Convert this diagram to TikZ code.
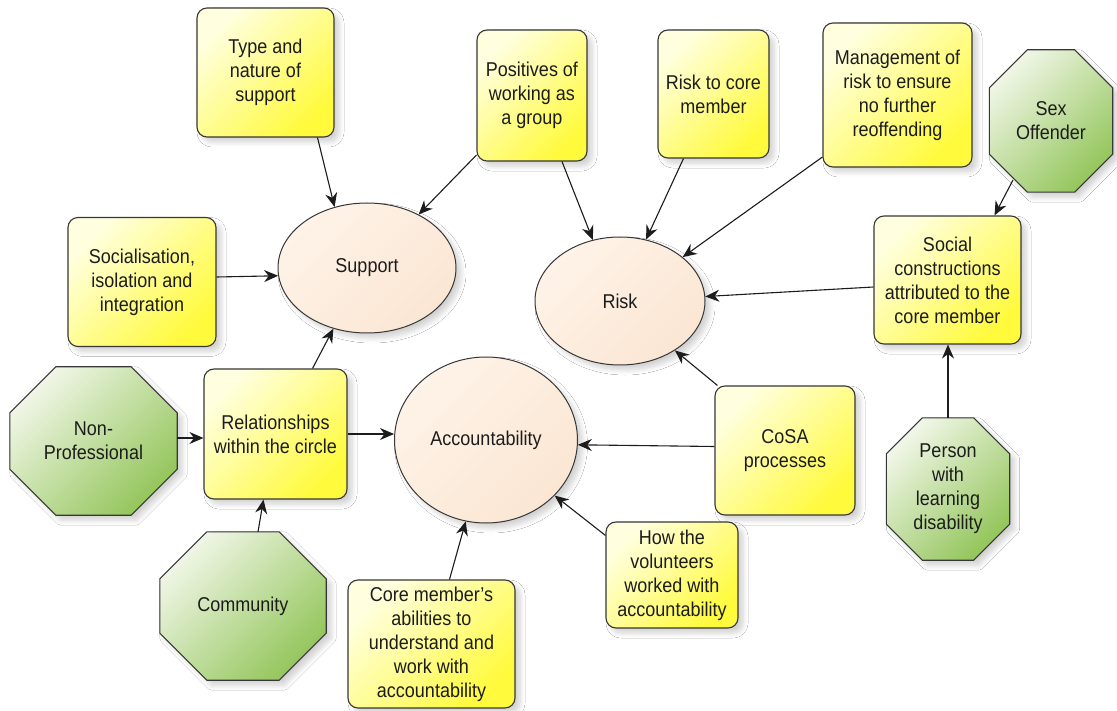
\documentclass[tikz,border=0pt]{standalone}
\usepackage{fontspec}
\setmainfont{Liberation Sans}[FakeStretch=0.9]
\usetikzlibrary{arrows.meta,shadows.blur,backgrounds,calc,shapes.geometric}

\definecolor{boxlight}{RGB}{255,255,224}
\definecolor{boxdark}{RGB}{255,250,60}
\definecolor{octlight}{RGB}{240,246,230}
\definecolor{octdark}{RGB}{148,198,92}
\definecolor{elllight}{RGB}{254,243,232}
\definecolor{elldark}{RGB}{251,230,211}
\definecolor{edge}{RGB}{55,55,55}
\definecolor{ink}{RGB}{28,28,28}

\begin{document}
\begin{tikzpicture}[x=1pt,y=-1pt,
  every node/.style={font=\fontsize{20}{24}\selectfont, text=ink, align=center},
  softshadow/.style={blur shadow={shadow xshift=5pt, shadow yshift=-5pt,
      shadow opacity=18, shadow blur steps=8, shadow blur radius=5pt}},
  topic/.style={draw=edge, line width=1.1pt, rounded corners=10pt,
      top color=boxlight, bottom color=boxdark, shading angle=45,
      softshadow, inner sep=3pt},
  theme/.style={ellipse, draw=edge, line width=1pt,
      top color=elllight, bottom color=elldark, shading angle=45,
      softshadow, inner sep=0pt},
  agent/.style={inner sep=0pt},
  octshape/.style={draw=edge, line width=1.1pt,
      top color=octlight, bottom color=octdark, shading angle=45, softshadow},
  link/.style={draw=ink, line width=1.1pt, -{Stealth[length=14pt,width=12pt]}},
]
\useasboundingbox (0,0) rectangle (1117,711);

% central themes
\node[theme, minimum width=178pt, minimum height=130pt] (support) at (367,268) {Support};
\node[theme, minimum width=170pt, minimum height=128pt] (risk) at (620,301) {Risk};
\node[theme, minimum width=183pt, minimum height=166pt] (acc) at (486,440) {Accountability};

% sub-topic boxes
\node[topic, minimum width=137pt, minimum height=129pt] (type) at (265.5,72.5) {Type and\\nature of\\support};
\node[topic, minimum width=110pt, minimum height=131pt] (pos) at (532,95.5) {Positives of\\working as\\a group};
\node[topic, minimum width=111pt, minimum height=128pt] (riskcore) at (713.5,94) {Risk to core\\member};
\node[topic, minimum width=149pt, minimum height=144pt] (mgmt) at (897.5,95) {Management of\\risk to ensure\\no further\\reoffending};
\node[topic, minimum width=148pt, minimum height=129pt] (soc) at (142,282) {Socialisation,\\isolation and\\integration};
\node[topic, minimum width=147pt, minimum height=128pt] (socc) at (947.5,280) {Social\\constructions\\attributed to the\\core member};
\node[topic, minimum width=143pt, minimum height=130pt] (rel) at (275.5,434) {Relationships\\within the circle};
\node[topic, minimum width=140pt, minimum height=129pt] (cosa) at (785,450.5) {CoSA\\processes};
\node[topic, minimum width=132pt, minimum height=106pt] (how) at (672,575) {How the\\volunteers\\worked with\\accountability};
\node[topic, minimum width=167pt, minimum height=128pt] (core) at (431.5,644) {Core member's\\abilities to\\understand and\\work with\\accountability};

% labels of the octagonal actors
\node[agent, minimum width=167pt, minimum height=148pt] (nonprof) at (93.5,441) {Non-\\Professional};
\node[agent, minimum width=166pt, minimum height=148pt] (comm) at (243,606) {Community};
\node[agent, minimum width=123pt, minimum height=142pt] (sex) at (1051,121) {Sex\\Offender};
\node[agent, minimum width=123pt, minimum height=142pt] (person) at (948,489) {Person\\with\\learning\\disability};

\begin{scope}[on background layer]
  \fill[white] (0,0) rectangle (1117,711);
  \foreach \n/\c in {nonprof/46, comm/47, sex/38, person/36} {
    \path[octshape] ($(\n.north west)+(\c,0)$) -- ($(\n.north east)+(-\c,0)$)
      -- ($(\n.north east)+(0,\c)$) -- ($(\n.south east)+(0,-\c)$)
      -- ($(\n.south east)+(-\c,0)$) -- ($(\n.south west)+(\c,0)$)
      -- ($(\n.south west)+(0,-\c)$) -- ($(\n.north west)+(0,\c)$) -- cycle;
  }
\end{scope}

% connectors
\draw[link] ([xshift=52pt]type.south) -- (support.118);
\draw[link] (pos.227) -- (support.46);
\draw[link] ([xshift=30pt]pos.south) -- (risk.114);
\draw[link] ([xshift=-30pt]riskcore.south) -- (risk.67);
\draw[link] ([yshift=-62pt]mgmt.west) -- (risk.35);
\draw[link] ([xshift=-38pt,yshift=-59pt]sex.center) -- ([xshift=47pt]socc.north);
\draw[link] ([yshift=-7pt]socc.west) -- (risk.3);
\draw[link] ([yshift=5pt]soc.east) -- (support.185);
\draw[link] ([xshift=37pt]rel.north) -- (support.241);
\draw[link] ([yshift=3pt]nonprof.east) -- ([yshift=3pt]nonprof.east -| rel.west);
\draw[link] (rel.east) -- (rel.east -| acc.west);
\draw[link] ([xshift=15pt]comm.north) -- ([xshift=-12pt]rel.south);
\draw[link] ([xshift=3pt]cosa.north west) -- (risk.-42);
\draw[link] ([yshift=4pt]cosa.west) -- (acc.-3);
\draw[link] ([yshift=-14pt]how.north west) -- (acc.-39);
\draw[link] ([xshift=18pt]core.north) -- (acc.256);
\draw[link] (person.north) -- (person.north |- socc.south);
\end{tikzpicture}
\end{document}
